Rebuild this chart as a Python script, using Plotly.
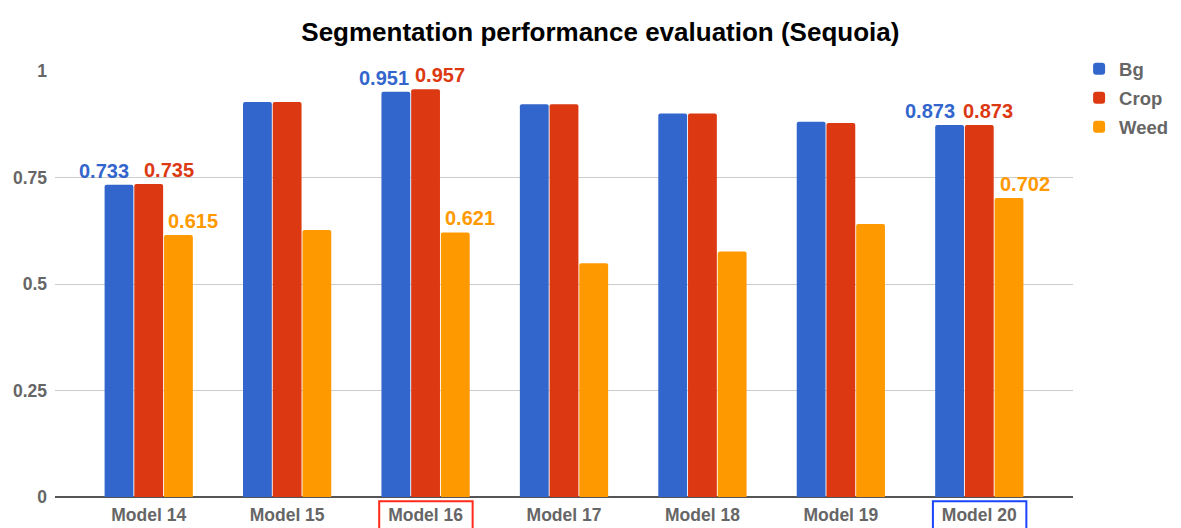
# Segmentation performance bar chart (Sequoia)
import plotly.graph_objects as go

models = ["Model 14", "Model 15", "Model 16", "Model 17", "Model 18", "Model 19", "Model 20"]
bg = [0.733, 0.927, 0.951, 0.922, 0.900, 0.881, 0.873]
crop = [0.735, 0.927, 0.957, 0.922, 0.900, 0.878, 0.873]
weed = [0.615, 0.627, 0.621, 0.549, 0.576, 0.641, 0.702]

# only some bars carry a value label
labelled = ["Model 14", "Model 16", "Model 20"]
y_ticks = [0, 0.25, 0.5, 0.75, 1]
y_tick_text = ["0", "0.25", "0.5", "0.75", "1"]

series = [("Bg", bg, "#3366CC"), ("Crop", crop, "#DC3912"), ("Weed", weed, "#FF9900")]

# horizontal nudge (px from group centre) of each value label, so they don't collide
label_shift = {
	"Model 14": {"Bg": -45, "Crop": 20, "Weed": 44},
	"Model 16": {"Bg": -42, "Crop": 14, "Weed": 44},
	"Model 20": {"Bg": -49, "Crop": 9, "Weed": 46},
}

fnt = "Liberation Sans, Arial, sans-serif"

fig = go.Figure()
for name, vals, col in series:
	fig.add_trace(go.Bar(
		name=name, x=models, y=vals, marker_color=col, marker_line_width=0,
		legendgroup=name, hoverinfo="x+y"))
	for m, v in zip(models, vals):
		if m in labelled:
			fig.add_annotation(x=m, y=v, text=f"{v:.3f}", showarrow=False,
				xanchor="center", yanchor="bottom", xshift=label_shift[m][name], yshift=1,
				font=dict(family=fnt, size=20, color=col, weight=700))

# highlighted models get a box around their tick label
boxes = [("Model 16", "#FF2A1A"), ("Model 20", "#1A44FF")]
for m, col in boxes:
	i = models.index(m)
	fig.add_shape(type="rect", xref="x", yref="paper",
		x0=i - 0.335, x1=i + 0.34, y0=-0.01, y1=-0.09,
		line=dict(color=col, width=2), fillcolor="rgba(0,0,0,0)")

fig.update_layout(
	width=1173, height=520,
	paper_bgcolor="white", plot_bgcolor="white",
	margin=dict(l=47, r=108, t=63, b=31, autoexpand=False),
	barmode="group", bargap=0.356, bargroupgap=0.03, barcornerradius=2,
	title=dict(text="Segmentation performance evaluation (Sequoia)", x=0.505, xanchor="center",
		y=0.954, yanchor="middle",
		font=dict(family=fnt, size=26, color="black", weight=700)),
	legend=dict(x=1.006, y=1.049, xanchor="left", yanchor="top",
		font=dict(family=fnt, size=18.5, color="#666666", weight=700),
		traceorder="grouped", tracegroupgap=2, itemwidth=30),
	showlegend=True,
)
fig.update_xaxes(range=[-0.677, 6.677], showgrid=False, showline=False, ticks="",
	automargin=False, ticklabelstandoff=5,
	tickfont=dict(family=fnt, size=17.5, color="#666666", weight=700))
fig.update_yaxes(range=[0, 1], tickvals=y_ticks, ticktext=y_tick_text,
	showgrid=True, gridcolor="#CCCCCC", gridwidth=1,
	zeroline=True, zerolinecolor="#555555", zerolinewidth=1.5,
	ticks="", ticklabelstandoff=7, automargin=False,
	tickfont=dict(family=fnt, size=17.5, color="#666666", weight=700))

fig.write_html("out.html")
